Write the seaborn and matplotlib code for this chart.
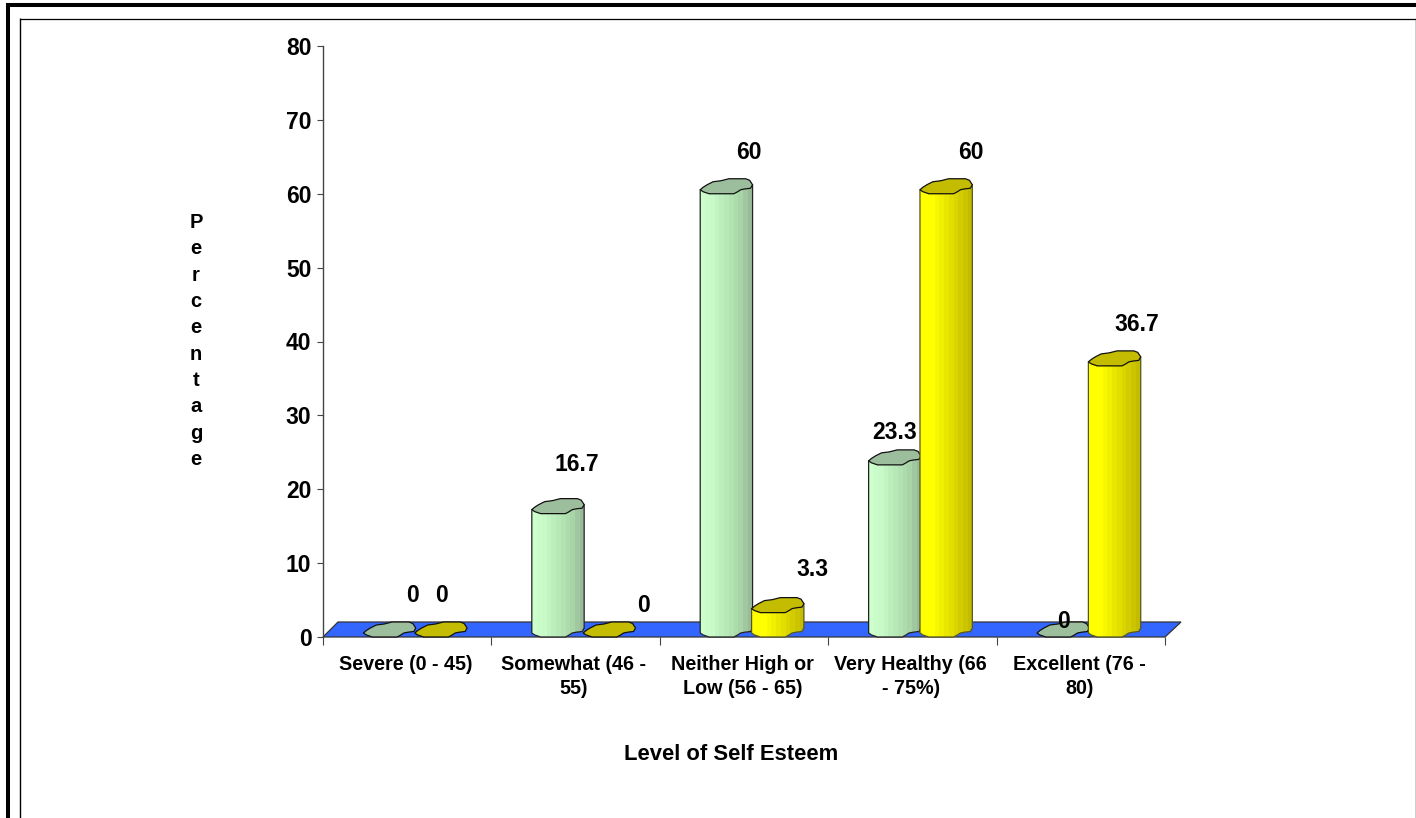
import numpy as np
import pandas as pd
import matplotlib
matplotlib.use("Agg")
import matplotlib.pyplot as plt
import seaborn as sns
from matplotlib.colors import LinearSegmentedColormap
from matplotlib.lines import Line2D
from matplotlib.patches import Polygon

categories = ["Severe (0 - 45)", "Somewhat (46 -\n55)", "Neither High or\nLow (56 - 65)",
              "Very Healthy (66\n- 75%)", "Excellent (76 -\n80)"]
first_series = [0, 16.7, 60, 23.3, 0]
second_series = [0, 0, 3.3, 60, 36.7]
first_label_text = ["0", "16.7", "60", "23.3", "0"]
second_label_text = ["0", "0", "3.3", "60", "36.7"]
y_ticks = [0, 10, 20, 30, 40, 50, 60, 70, 80]

W, H = 1416, 818
AX_L, AX_R, AX_T, AX_B = 323, 1165, 46, 637
FONT = "Liberation Sans"

sns.set_theme(style="white")
plt.rcParams["font.family"] = [FONT, "DejaVu Sans"]
plt.rcParams["font.weight"] = "bold"

fig = plt.figure(figsize=(W / 100, H / 100), dpi=100, facecolor="white")
ax = fig.add_axes([AX_L / W, 1 - AX_B / H, (AX_R - AX_L) / W, (AX_B - AX_T) / H])

# Bars sit slightly right of their category centre, as on an oblique 3-D floor
DEPTH_SHIFT = 0.045
slots = np.arange(len(categories)) + DEPTH_SHIFT
df = pd.DataFrame({
    "slot": np.tile(slots, 2),
    "value": first_series + second_series,
    "series": ["first"] * 5 + ["second"] * 5,
})
sns.barplot(data=df, x="slot", y="value", hue="series", native_scale=True, width=0.61,
            palette=["#CCFFCC", "#FFFF00"], legend=False, ax=ax, saturation=1, linewidth=0)

ax.set_xlim(-0.5, 4.5)
ax.set_ylim(0, 80)
px_x = 5 / (AX_R - AX_L)
px_y = 80 / (AX_B - AX_T)

# Floor of the 3-D plot
floor = Polygon([(-0.5, 0), (-0.5 + 15 * px_x, 15 * px_y), (4.5 + 16 * px_x, 15 * px_y), (4.5, 0)],
                closed=True, facecolor="#3366FF", edgecolor="#333333", lw=0.9,
                clip_on=False, zorder=1)
ax.add_patch(floor)

# Irregular cap outline, in pixels right of the bar's left edge and above its value
CAP = np.array([(0, 4), (3, 6.5), (7, 9), (13, 12), (21, 13), (29, 15), (46, 15), (50, 13.5), (53, 9),
                (51, 5.5), (45, 4.8), (41, 4), (37, 1.5), (34, 0), (9, 0), (3, 2)], float)
RIM_ORDER = [15, 14, 13, 12, 11, 10, 9, 8]

ramps = {
    "first": ["#CCFFCC", "#C8FAC8", "#BCEEBC", "#B2E2B2", "#A8D4A8", "#99BB99"],
    "second": ["#FFFF00", "#FFFF00", "#F0F000", "#E2DE00", "#D2CC00", "#C4BC00"],
}
caps = {"first": "#9CBE9C", "second": "#C4BC00"}
edges = {"first": "#222222", "second": "#555522"}


def place(points, left, base, scale):
    return np.column_stack([left + points[:, 0] * px_x * scale, base + points[:, 1] * px_y])


for series, container in zip(["first", "second"], ax.containers):
    cmap = LinearSegmentedColormap.from_list(series, ramps[series], N=11)
    for idx, bar in enumerate(container):
        x0, w, h = bar.get_x(), bar.get_width(), bar.get_height()
        scale = w / (52 * px_x)
        z = 3 + idx + (0.5 if series == "second" else 0)
        bar.set_zorder(z)
        if h > 0:
            # Body silhouette: straight sides, lower rim following the cap's front edge
            outline = np.vstack([
                [[x0, h + 4 * px_y]],
                [[x0, 4 * px_y]],
                place(CAP[RIM_ORDER], x0, 0, scale),
                place(CAP[[8]], x0, h, scale),
            ])
            ax.add_patch(Polygon(outline, closed=True, facecolor="none", edgecolor=edges[series],
                                 lw=0.9, zorder=z + 0.2, clip_on=False, joinstyle="round"))
            grad = ax.imshow(np.linspace(0, 1, 200).reshape(1, -1), cmap=cmap, aspect="auto",
                             extent=(x0, x0 + 53 * px_x * scale, 0, h + 15 * px_y),
                             zorder=z + 0.1, interpolation="nearest")
            grad.set_clip_path(Polygon(outline, closed=True, transform=ax.transData))
            bar.set_clip_path(Polygon(outline, closed=True, transform=ax.transData))
        ax.add_patch(Polygon(place(CAP, x0, h, scale), closed=True, facecolor=caps[series],
                             edgecolor="#111111", lw=0.9, zorder=z + 0.3, clip_on=False,
                             joinstyle="round"))

ax.set_xlim(-0.5, 4.5)
ax.set_ylim(0, 80)

# Value labels: offsets in pixels from each bar's centre and top
first_offsets = [(23, 41), (19, 49), (23, 41), (0, 32), (1, 15)]
second_offsets = [(1, 41), (35, 32), (35, 43), (25, 41), (23, 41)]
for container, texts, offsets in zip(ax.containers, [first_label_text, second_label_text],
                                     [first_offsets, second_offsets]):
    for bar, text, off in zip(container, texts, offsets):
        ax.annotate(text, (bar.get_x() + bar.get_width() / 2, bar.get_height()),
                    xytext=(off[0] * 0.72, off[1] * 0.72), textcoords="offset points",
                    ha="center", va="center", fontsize=16.5, fontweight="bold",
                    color="black", zorder=20, annotation_clip=False)

# Axes: y spine with ticks, x ticks at the category boundaries
sns.despine(ax=ax, top=True, right=True, bottom=True)
ax.spines["left"].set_color("#444444")
ax.spines["left"].set_linewidth(1)
ax.set_yticks(y_ticks)
ax.set_yticklabels([str(t) for t in y_ticks], fontsize=16.5, fontweight="bold", color="black")
ax.tick_params(axis="y", left=True, length=4.3, width=0.8, color="#444444", pad=4)
ax.set_xticks(np.arange(-0.5, 5, 1))
ax.set_xticklabels([])
ax.set_xticks(np.arange(5) - 0.01, minor=True)
ax.set_xticklabels(categories, minor=True, fontsize=14.2, fontweight="bold", color="black", linespacing=1.32)
ax.tick_params(axis="x", which="minor", bottom=False, length=0, pad=13)
ax.tick_params(axis="x", which="major", bottom=True, length=6, width=0.8, color="#444444")

ax.set_xlabel("Level of Self Esteem", fontsize=15.8, fontweight="bold", color="black", va="center")
ax.xaxis.set_label_coords((731 - AX_L) / (AX_R - AX_L), -(755 - AX_B) / (AX_B - AX_T))
ax.set_ylabel("\n".join("Percentage"), rotation=0, fontsize=14.5, fontweight="bold", color="black",
              ha="center", va="center", linespacing=1.49)
ax.yaxis.set_label_coords((196 - AX_L) / (AX_R - AX_L), (AX_B - 341) / (AX_B - AX_T))


# Picture frame: heavy outer rule and thin inner rule
def frame_line(xs, ys, lw):
    fig.add_artist(Line2D([x / W for x in xs], [1 - y / H for y in ys], color="black", lw=lw,
                          solid_capstyle="butt"))


frame_line([6, W], [5, 5], 2.9)
frame_line([8, 8], [3, H], 2.9)
frame_line([19.5, W], [18.5, 18.5], 0.9)
frame_line([19.5, 19.5], [18, H], 1.0)
frame_line([1415.5, 1415.5], [18, H], 1.0)

fig.savefig("out.png", dpi=100, facecolor="white")
